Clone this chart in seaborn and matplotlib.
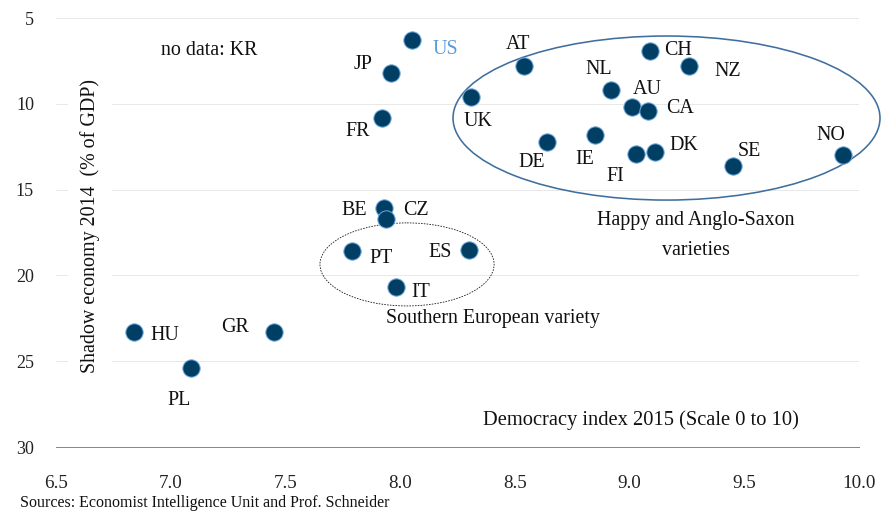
import matplotlib
matplotlib.use("Agg")
import matplotlib.pyplot as plt
from matplotlib.patches import Ellipse
import seaborn as sns
import pandas as pd

countries = ["US", "JP", "FR", "BE", "CZ", "PT", "ES", "IT", "HU", "GR", "PL",
             "UK", "AT", "NL", "CH", "NZ", "AU", "CA", "DE", "IE", "FI", "DK", "SE", "NO"]
democracy_2015 = [8.05, 7.96, 7.92, 7.93, 7.94, 7.79, 8.30, 7.98, 6.84, 7.45, 7.09,
                  8.31, 8.54, 8.92, 9.09, 9.26, 9.01, 9.08, 8.64, 8.85, 9.03, 9.11, 9.45, 9.93]
shadow_2014 = [6.3, 8.2, 10.8, 16.1, 16.7, 18.6, 18.5, 20.7, 23.3, 23.3, 25.4,
               9.6, 7.8, 9.2, 6.9, 7.8, 10.2, 10.4, 12.2, 11.8, 12.9, 12.8, 13.6, 13.0]
x_ticks = [6.5, 7.0, 7.5, 8.0, 8.5, 9.0, 9.5, 10.0]
y_ticks = [5, 10, 15, 20, 25, 30]

# label offsets in points (style only)
label_offsets = {
    "US": (21, -9, "left"), "JP": (-19, 8, "right"), "FR": (-12, -14, "right"),
    "BE": (-17, -2, "right"), "CZ": (17, 8, "left"), "PT": (17, -7, "left"),
    "ES": (-17, -3, "right"), "IT": (16, -5, "left"), "HU": (16, -3, "left"),
    "GR": (-25, 5, "right"), "PL": (-12, -32, "center"), "UK": (7, -25, "center"),
    "AT": (-6, 22, "center"), "NL": (-12, 21, "center"), "CH": (14, 0, "left"),
    "NZ": (25, -5, "left"), "AU": (1, 18, "left"), "CA": (18, 2, "left"),
    "DE": (-15, -21, "center"), "IE": (-10, -25, "center"), "FI": (-21, -23, "center"),
    "DK": (15, 6, "left"), "SE": (5, 14, "left"), "NO": (-12, 20, "center"),
}

df = pd.DataFrame({"country": countries, "democracy": democracy_2015, "shadow": shadow_2014})

sns.set_theme(style="white")
plt.rcParams["font.family"] = ["Liberation Serif", "DejaVu Serif"]

FS = 20
fig = plt.figure(figsize=(881 / 72, 513 / 72), dpi=72)
ax = fig.add_axes([56 / 881, 1 - 447 / 513, (859 - 56) / 881, (447 - 18) / 513])

sns.scatterplot(data=df, x="democracy", y="shadow", ax=ax, s=300, color="#003f63",
                edgecolor="#6fa8dc", linewidth=1.0, zorder=5, clip_on=False)

ax.set_xlim(6.5, 10.0)
ax.set_ylim(30, 5)
ax.set_xticks(x_ticks)
ax.set_xticklabels([f"{v:.1f}" for v in x_ticks])
ax.set_yticks(y_ticks)
ax.set_yticklabels([str(v) for v in y_ticks])
ax.tick_params(axis="x", length=0, pad=28, labelsize=19, colors="#222222")
ax.tick_params(axis="y", length=0, pad=22, labelsize=18, colors="#222222")

for sp in ["top", "right", "left"]:
    ax.spines[sp].set_visible(False)
ax.spines["bottom"].set_color("#888888")
ax.spines["bottom"].set_linewidth(1.0)
ax.grid(axis="y", linestyle=(0, (1, 1.5)), color="#bbbbbb", linewidth=0.8)
ax.grid(axis="x", visible=False)
ax.set_axisbelow(True)

ax.set_xlabel("")
ax.set_ylabel("Shadow economy 2014  (% of GDP)", fontsize=FS, color="#111111",
              bbox=dict(facecolor="white", edgecolor="none", pad=12))
ax.yaxis.set_label_coords(0.055, 0.515)

for c, x, y in zip(countries, democracy_2015, shadow_2014):
    dx, dy, ha = label_offsets[c]
    ax.annotate(c, (x, y), xytext=(dx, dy), textcoords="offset points",
                ha=ha, va="center", fontsize=FS,
                color="#5b9bd5" if c == "US" else "#111111", zorder=6)

big = Ellipse((9.161, 10.83), 1.861, 9.56, fill=False, edgecolor="#3f6f9f",
              linewidth=1.6, clip_on=False, zorder=3)
ax.add_patch(big)
small = Ellipse((8.03, 19.36), 0.759, 4.84, fill=False, edgecolor="#111111",
                linewidth=0.8, linestyle=(0, (2, 1.5)), clip_on=False, zorder=3)
ax.add_patch(small)

ax.text(7.167, 6.9, "no data: KR", ha="center", va="center", fontsize=FS, color="#111111")
ax.text(9.29, 16.8, "Happy and Anglo-Saxon", ha="center", va="center",
        fontsize=FS, color="#111111")
ax.text(9.29, 18.55, "varieties", ha="center", va="center",
        fontsize=FS, color="#111111")
ax.text(8.405, 22.5, "Southern European variety", ha="center", va="center",
        fontsize=FS, color="#111111")
ax.text(9.05, 28.45, "Democracy index 2015 (Scale 0 to 10)", ha="center", va="center",
        fontsize=20.5, color="#111111")
fig.text(20 / 881, 1 - 503 / 513, "Sources: Economist Intelligence Unit and Prof. Schneider",
         ha="left", va="center", fontsize=16, color="#111111")

fig.savefig("out.png", dpi=72)
